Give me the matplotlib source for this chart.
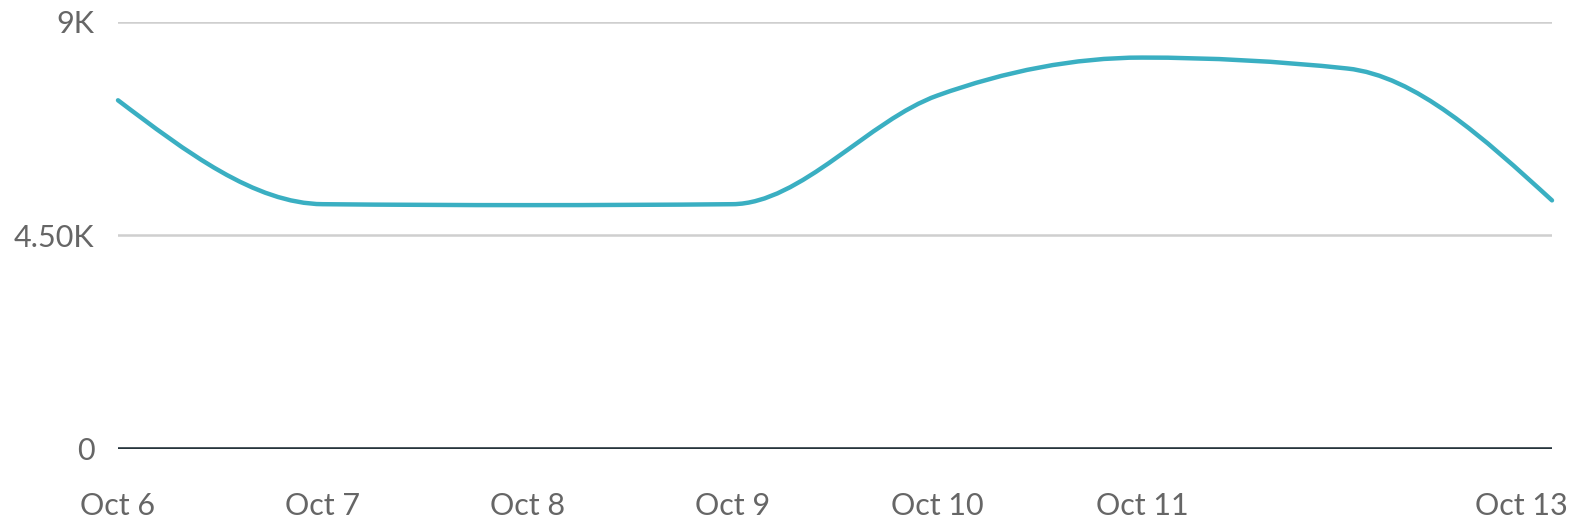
import numpy as np
import matplotlib.pyplot as plt
from matplotlib.path import Path
from matplotlib.patches import PathPatch
import matplotlib.transforms as mtransforms

plt.rcParams['font.family'] = ['Lato', 'DejaVu Sans']

# daily values, Oct 6 .. Oct 13
days = [0, 1, 2, 3, 4, 5, 6, 7]
values = [7350, 5160, 5140, 5160, 7450, 8250, 8020, 5240]
tick_pos = [0, 1, 2, 3, 4, 5, 7]
tick_labels = ['Oct 6', 'Oct 7', 'Oct 8', 'Oct 9', 'Oct 10', 'Oct 11', 'Oct 13']
y_ticks = [0, 4500, 9000]
y_labels = ['0', '4.50K', '9K']


def monotone_path(x, y):
    # monotone-x cubic, drawn as bezier segments
    x = np.asarray(x, float)
    y = np.asarray(y, float)
    h = np.diff(x)
    s = np.diff(y) / h
    m = np.zeros_like(y)
    for i in range(1, len(y) - 1):
        p = (s[i - 1] * h[i] + s[i] * h[i - 1]) / (h[i - 1] + h[i])
        m[i] = (np.sign(s[i - 1]) + np.sign(s[i])) * min(abs(s[i - 1]), abs(s[i]), 0.5 * abs(p))
    m[0] = (3 * s[0] - m[1]) / 2
    m[-1] = (3 * s[-1] - m[-2]) / 2
    verts = [(x[0], y[0])]
    codes = [Path.MOVETO]
    for i in range(len(h)):
        verts += [(x[i] + h[i] / 3, y[i] + m[i] * h[i] / 3),
                  (x[i + 1] - h[i] / 3, y[i + 1] - m[i + 1] * h[i] / 3),
                  (x[i + 1], y[i + 1])]
        codes += [Path.CURVE4] * 3
    return Path(verts, codes)


fig = plt.figure(figsize=(15.72, 5.24), dpi=100)
ax = fig.add_axes([118 / 1572, 75 / 524, (1552 - 118) / 1572, (502 - 75) / 524])

ax.add_patch(PathPatch(monotone_path(days, values), fill=False,
                       edgecolor='#3aafc2', linewidth=3.2, clip_on=False,
                       capstyle='round', joinstyle='round', zorder=3))

ax.set_xlim(0, 7)
ax.set_ylim(0, 9000)
for s in ax.spines.values():
    s.set_visible(False)

ax.set_yticks(y_ticks)
ax.set_yticklabels(y_labels)
ax.set_xticks(tick_pos)
ax.set_xticklabels(tick_labels)
ax.tick_params(axis='both', length=0, labelsize=22, labelcolor='#666666')
ax.tick_params(axis='y', pad=17)
ax.tick_params(axis='x', pad=31)

ax.yaxis.grid(True, color='#cfcfcf', linewidth=1.8)
ax.set_axisbelow(True)
ax.axhline(0, color='#26343c', linewidth=2.6, zorder=2)

# last label kept inside the figure
last = ax.get_xticklabels()[-1]
last.set_horizontalalignment('right')
last.set_transform(last.get_transform() + mtransforms.ScaledTranslation(16 / 100, 0, fig.dpi_scale_trans))

fig.savefig('out.png', dpi=100)
